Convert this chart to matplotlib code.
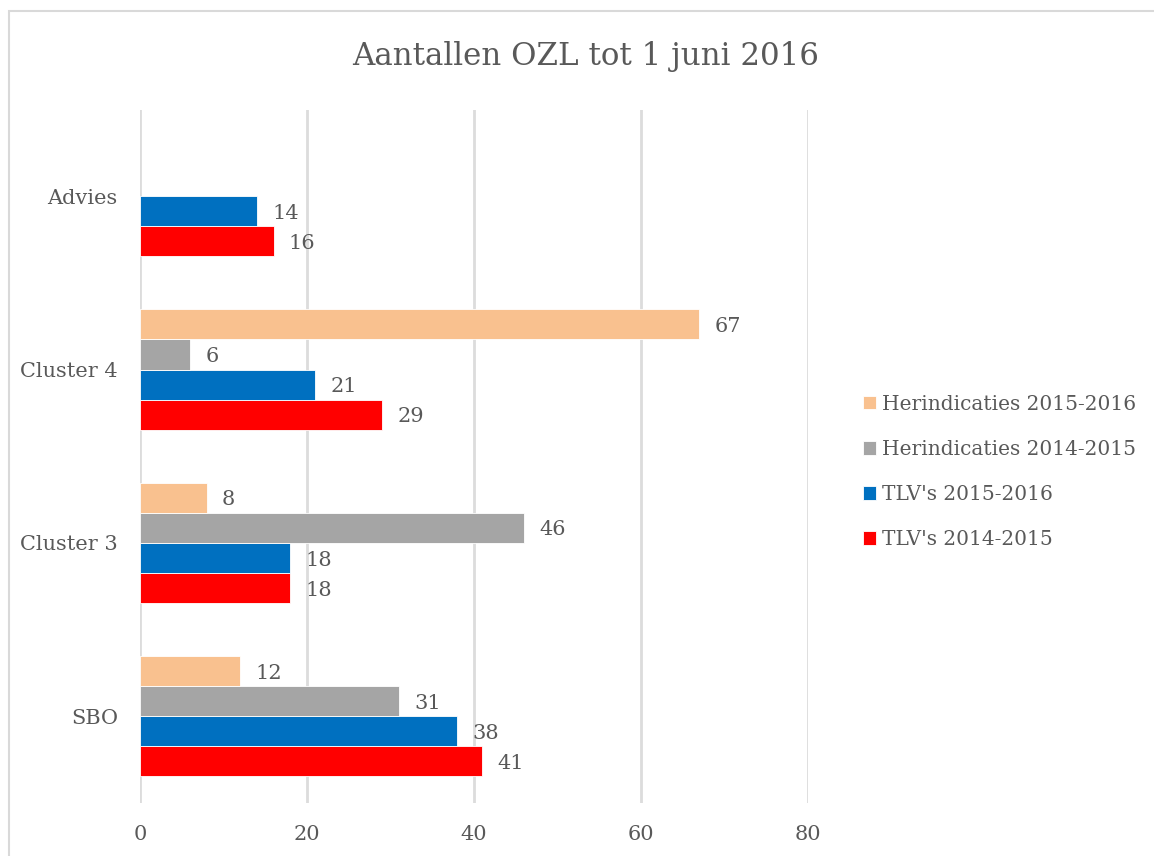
import matplotlib
matplotlib.use("Agg")
import matplotlib.pyplot as plt
import numpy as np
from matplotlib.patches import Rectangle

categories = ["SBO", "Cluster 3", "Cluster 4", "Advies"]
tlv_2014_2015 = [41, 18, 29, 16]
tlv_2015_2016 = [38, 18, 21, 14]
her_2014_2015 = [31, 46, 6, None]
her_2015_2016 = [12, 8, 67, None]
series_names = ["TLV's 2014-2015", "TLV's 2015-2016",
                "Herindicaties 2014-2015", "Herindicaties 2015-2016"]
series_values = [tlv_2014_2015, tlv_2015_2016, her_2014_2015, her_2015_2016]
colors = ["#FF0000", "#0070C0", "#A5A5A5", "#F9C18F"]
xticks = [0, 20, 40, 60, 80]
title = "Aantallen OZL tot 1 juni 2016"

TXT = "#595959"
plt.rcParams['font.family'] = ['DejaVu Serif']

W, H = 1154, 856
fig = plt.figure(figsize=(W / 100, H / 100), dpi=100)
ax = fig.add_axes([140 / W, 1 - 803 / H, (808 - 140) / W, (803 - 109.5) / H])

y = np.arange(len(categories))
bh = 0.1734
offsets = [-1.5 * bh, -0.5 * bh, 0.5 * bh, 1.5 * bh]
handles = []
for name, vals, col, off in zip(series_names, series_values, colors, offsets):
    v = np.array([np.nan if a is None else a for a in vals], dtype=float)
    bars = ax.barh(y + off, v, height=bh, color=col, edgecolor="white",
                   linewidth=0.6, label=name, zorder=3)
    handles.append(bars)
    for yi, val in zip(y + off, v):
        if not np.isnan(val):
            ax.annotate(f"{int(val)}", (val, yi), xytext=(11, -1.5),
                        textcoords="offset points", ha="left", va="center",
                        fontsize=15, color=TXT)

ax.set_xlim(0, 80)
ax.set_ylim(-0.5, 3.5)
ax.set_xticks(xticks)
ax.set_xticklabels([str(t) for t in xticks])
ax.set_yticks(y)
ax.set_yticklabels(categories)
ax.tick_params(axis="both", length=0, labelsize=15, labelcolor=TXT)
ax.tick_params(axis="y", pad=16)
ax.tick_params(axis="x", pad=16)
ax.grid(axis="x", color="#DCDCDC", linewidth=2, zorder=0)
for s in ax.spines.values():
    s.set_visible(False)

fig.text(585.5 / W, 1 - 56 / H, title, ha="center", va="center",
         fontsize=22.2, color=TXT)

leg = fig.legend(handles[::-1], series_names[::-1], loc="center left",
                 bbox_to_anchor=(845 / W, 1 - 472 / H), frameon=False,
                 fontsize=14.5, labelcolor=TXT, handlelength=0.65,
                 handleheight=0.65, handletextpad=0.3, labelspacing=1.3)

fig.add_artist(Rectangle((8.5 / W, -0.05), 1.5, (H - 11.5) / H + 0.05,
                         transform=fig.transFigure, fill=False,
                         edgecolor="#D9D9D9", linewidth=1.5, clip_on=False))

fig.savefig("out.png", dpi=100)
